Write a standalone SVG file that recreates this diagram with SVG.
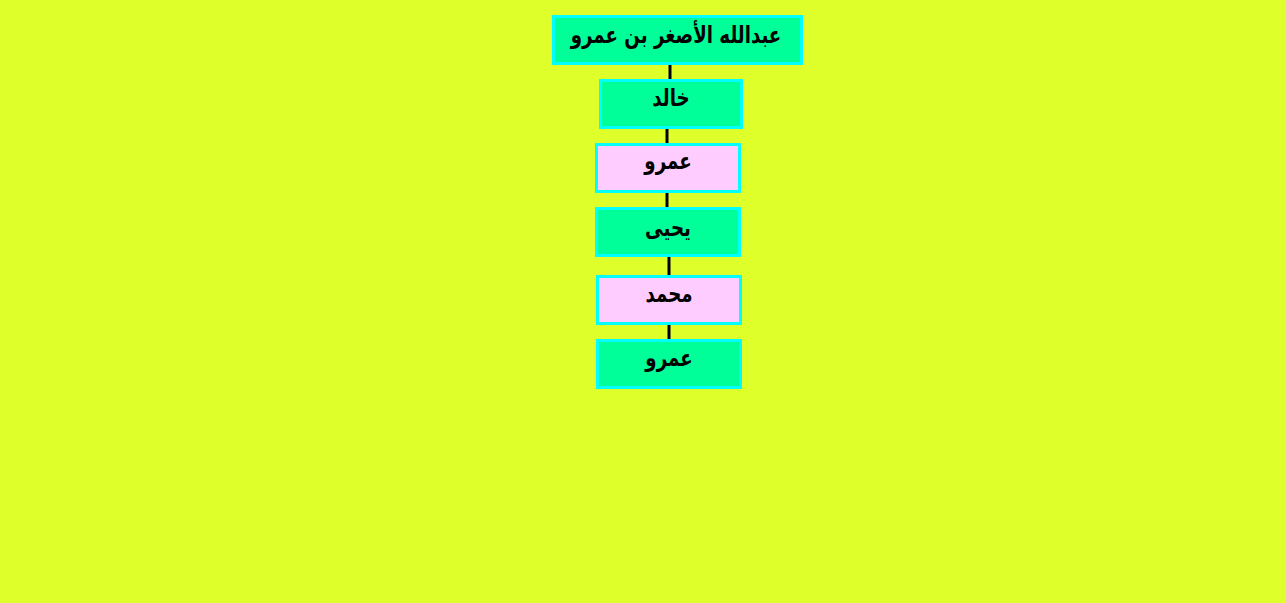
<svg xmlns="http://www.w3.org/2000/svg" width="1286" height="603" viewBox="0 0 1286 603">
<style>
.bg{fill:#DFFF2B}
.g{fill:#00FF99;stroke:#00FFFF;stroke-width:3}
.p{fill:#FFCCFF;stroke:#00FFFF;stroke-width:3}
.t{font-family:"DejaVu Sans","Liberation Sans",sans-serif;font-weight:bold;font-size:24px;fill:#000;text-anchor:middle;direction:rtl}
.c line{stroke:#000;stroke-width:3}
</style>
<rect class="bg" x="0" y="0" width="1286" height="603"/>
<g class="c" id="connectors">
<line x1="670" y1="65" x2="670" y2="79"/>
<line x1="667" y1="129" x2="667" y2="143"/>
<line x1="667" y1="193" x2="667" y2="207"/>
<line x1="669" y1="257" x2="669" y2="275"/>
<line x1="669" y1="325" x2="669" y2="339"/>
</g>
<g id="n1"><rect class="g" x="553.5" y="16.5" width="248" height="47"/><text class="t" transform="translate(676,43) scale(0.76,1)">عبدالله الأصغر بن عمرو</text></g>
<g id="n2"><rect class="g" x="600.5" y="80.5" width="141" height="47"/><text class="t" transform="translate(671,106) scale(0.76,1)">خالد</text></g>
<g id="n3"><rect class="p" x="596.5" y="144.5" width="143" height="47"/><text class="t" transform="translate(668,169) scale(0.76,1)">عمرو</text></g>
<g id="n4"><rect class="g" x="596.5" y="208.5" width="143" height="47"/><text class="t" transform="translate(668,236) scale(0.76,1)">يحيى</text></g>
<g id="n5"><rect class="p" x="597.5" y="276.5" width="143" height="47"/><text class="t" transform="translate(669,302) scale(0.76,1)">محمد</text></g>
<g id="n6"><rect class="g" x="597.5" y="340.5" width="143" height="47"/><text class="t" transform="translate(669,366) scale(0.76,1)">عمرو</text></g>
</svg>
